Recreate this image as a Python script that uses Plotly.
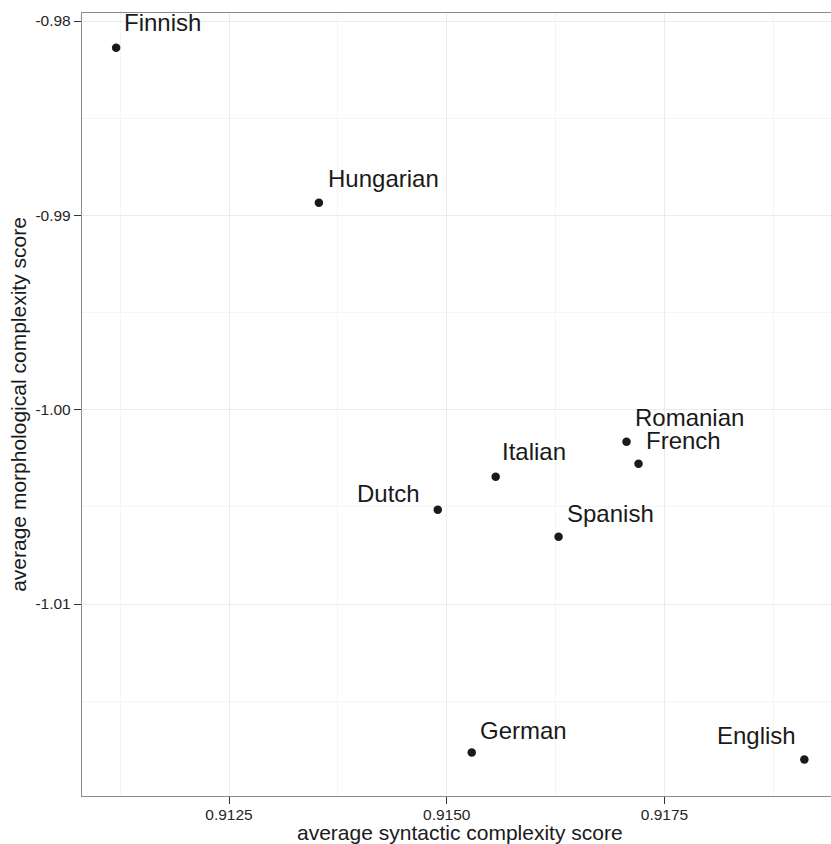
import plotly.graph_objects as go

# Average complexity scores per language
languages = ["Finnish", "Hungarian", "Romanian", "French", "Italian",
             "Dutch", "Spanish", "German", "English"]
syntactic = [0.911204, 0.913532, 0.917064, 0.917202, 0.915562,
             0.914897, 0.916284, 0.915287, 0.919106]
morphological = [-0.981379, -0.989352, -1.001646, -1.002778, -1.003447,
                 -1.005144, -1.006533, -1.017644, -1.018004]

# Label placement (anchor side, pixel shift) so the names do not overlap the dots
label_layout = {
    "Finnish":   ("left", 6, 25),
    "Hungarian": ("left", 7, 24),
    "Romanian":  ("left", 6, 24),
    "French":    ("left", 5, 23),
    "Italian":   ("left", 4, 25),
    "Dutch":     ("right", -16, 16),
    "Spanish":   ("left", 6, 23),
    "German":    ("left", 6, 22),
    "English":   ("right", -6, 24),
}

FONT = "Liberation Sans, Arial, Helvetica, sans-serif"
BORDER = "#8c8c8c"

fig = go.Figure()
fig.add_trace(go.Scatter(
    x=syntactic, y=morphological, mode="markers",
    marker=dict(color="#1a1a1a", size=8.5),
    hoverinfo="text", text=languages, showlegend=False,
))

for name, xv, yv in zip(languages, syntactic, morphological):
    anchor, dx, dy = label_layout[name]
    fig.add_annotation(
        x=xv, y=yv, xref="x", yref="y", text=name, showarrow=False,
        xanchor=anchor, yanchor="middle", xshift=dx, yshift=dy,
        font=dict(family=FONT, size=24, color="#1a1a1a"),
    )

# x-axis title sits low, close under the tick labels
fig.add_annotation(
    x=0.5, y=0, xref="paper", yref="paper", showarrow=False,
    text="average syntactic complexity score",
    xanchor="center", yanchor="middle", xshift=3, yshift=-36,
    font=dict(family=FONT, size=21, color="#1a1a1a"),
)

axis_common = dict(
    showline=True, linecolor=BORDER, linewidth=1.3,
    showgrid=True, gridcolor="#ebebeb", gridwidth=1,
    ticks="outside", ticklen=7, tickcolor="#333333", tickwidth=1,
    tickfont=dict(family=FONT, size=15.5, color="#262626"),
    zeroline=False,
)

fig.update_xaxes(
    **axis_common,
    mirror=True,
    ticklabelstandoff=-3,
    range=[0.910812, 0.919412],
    tickvals=[0.9125, 0.9150, 0.9175],
    ticktext=["0.9125", "0.9150", "0.9175"],
    minor=dict(tickvals=[0.91125, 0.91375, 0.91625, 0.91875],
               showgrid=True, gridcolor="#f5f5f5", gridwidth=1, ticks=""),
)
fig.update_yaxes(
    **axis_common,
    mirror=False,
    range=[-1.019877, -0.979588],
    tickvals=[-0.98, -0.99, -1.00, -1.01],
    ticktext=["-0.98", "-0.99", "-1.00", "-1.01"],
    minor=dict(tickvals=[-0.985, -0.995, -1.005, -1.015],
               showgrid=True, gridcolor="#f5f5f5", gridwidth=1, ticks=""),
    title=dict(text="average morphological complexity score",
               font=dict(family=FONT, size=21, color="#1a1a1a"), standoff=3),
)

fig.update_layout(
    width=831, height=844,
    margin=dict(l=82, r=0, t=13, b=48, autoexpand=False),
    paper_bgcolor="white", plot_bgcolor="white",
)

fig.write_html("out.html")
